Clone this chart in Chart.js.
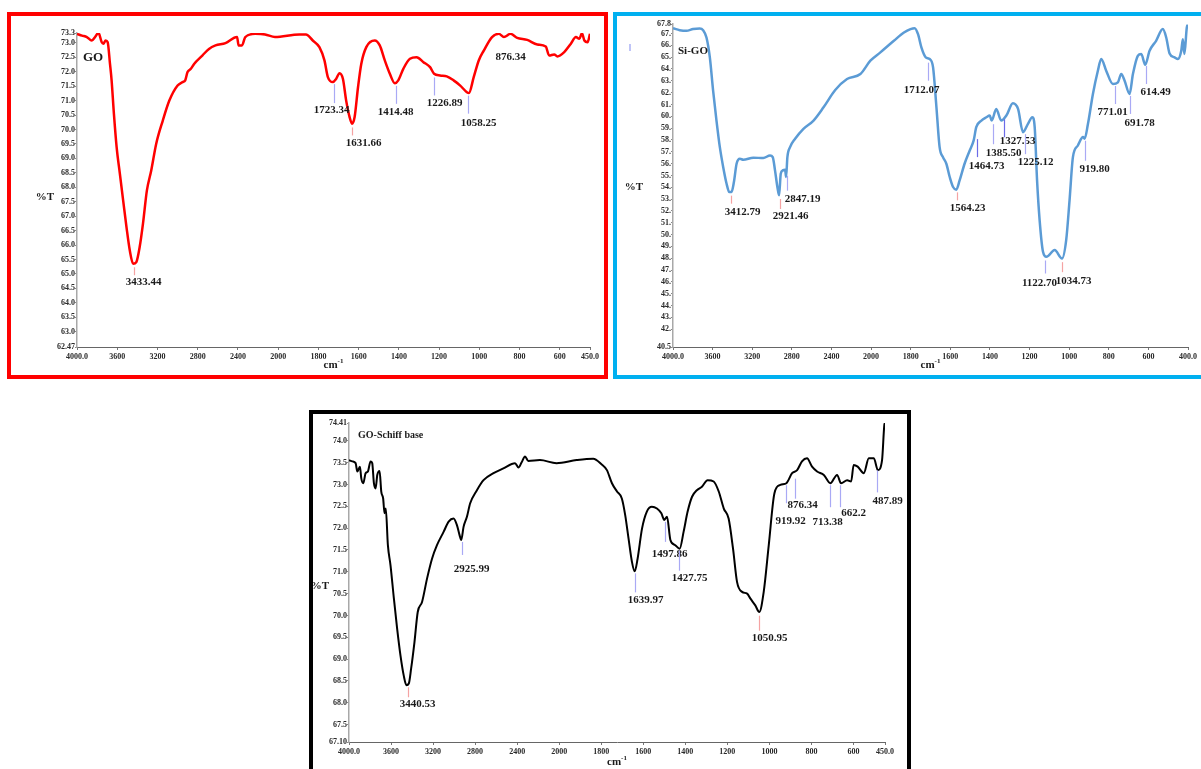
<!DOCTYPE html>
<html lang="en">
<head>
<meta charset="UTF-8">
<title>FTIR spectra - GO, Si-GO, GO-Schiff base</title>
<script src="https://cdn.jsdelivr.net/npm/chart.js@4.4.0/dist/chart.umd.min.js"></script>
<style>
  html, body { margin: 0; padding: 0; background: #fff; overflow: hidden; }
  body { width: 1201px; height: 769px; position: relative; }
  .box { position: absolute; box-sizing: border-box; border: 4px solid; }
  #box1 { left: 7px; top: 12px; width: 601px; height: 367px; border-color: #ff0000; }
  #box2 { left: 613px; top: 12px; width: 600px; height: 367px; border-color: #00b0f0; }
  #box3 { left: 309px; top: 410px; width: 602px; height: 380px; border-color: #000; }
  canvas { position: absolute; }
  #c1 { left: 11px; top: 16px; }
  #c2 { left: 617px; top: 16px; }
  #c3 { left: 313px; top: 414px; }
</style>
</head>
<body>
<div class="box" id="box1"></div>
<div class="box" id="box2"></div>
<div class="box" id="box3"></div>
<canvas id="c1" width="593" height="359"></canvas>
<canvas id="c2" width="584" height="359"></canvas>
<canvas id="c3" width="594" height="355"></canvas>

<script>
// ---- GO spectrum ----
const goWn = [4000, 3950, 3902, 3853, 3820, 3787, 3754, 3738, 3715, 3695, 3672, 3656, 3633, 3606, 3574, 3541,
  3508, 3475, 3442, 3410, 3377, 3344, 3305, 3262, 3213, 3147, 3082, 3000, 2950, 2924, 2901, 2868, 2836, 2754,
  2688, 2623, 2524, 2409, 2393, 2360, 2327, 2229, 2130, 2032, 1895, 1862, 1828, 1795, 1770, 1753, 1728, 1712,
  1695, 1678, 1662, 1645, 1633, 1620, 1603, 1587, 1562, 1520, 1495, 1470, 1445, 1420, 1403, 1378, 1345, 1312,
  1278, 1245, 1225, 1195, 1162, 1128, 1095, 1062, 1052, 1028, 1003, 978, 937, 903, 878, 845, 812, 762, 712,
  670, 653, 628, 612, 578, 545, 520, 503, 490, 478, 462, 450];
const goT = [73.31, 73.25, 73.20, 73.08, 73.20, 73.35, 73.02, 72.97, 73.08, 73.02, 72.27, 71.70, 70.54, 69.39, 68.47, 67.54,
  66.62, 65.81, 65.35, 65.41, 65.93, 66.74, 67.89, 68.58, 69.50, 70.31, 71.00, 71.52, 71.64, 71.70, 71.99, 72.10, 72.27, 72.56,
  72.79, 72.91, 72.99, 73.20, 72.91, 72.91, 73.20, 73.31, 73.29, 73.20, 73.29, 73.29, 73.08, 72.85, 72.39, 71.81, 71.64, 71.75,
  71.95, 71.75, 71.00, 70.43, 70.20, 70.43, 71.47, 72.27, 72.85, 73.08, 72.91, 72.39, 71.93, 71.60, 71.70, 72.10, 72.45, 72.50,
  72.33, 72.16, 71.93, 71.87, 71.84, 71.70, 71.52, 71.29, 71.26, 71.81, 72.39, 72.73, 73.20, 73.31, 73.20, 73.31, 73.17, 73.10, 72.94,
  72.87, 72.56, 72.60, 72.53, 72.68, 72.97, 73.20, 73.14, 73.33, 73.08, 73.02, 73.31];
const goYTicks = [73.34, 73.0, 72.5, 72.0, 71.5, 71.0, 70.5, 70.0, 69.5, 69.0, 68.5, 68.0, 67.5, 67.0, 66.5, 66.0,
  65.5, 65.0, 64.5, 64.0, 63.5, 63.0, 62.47];
const goYLabels = ['73.3', '73.0', '72.5', '72.0', '71.5', '71.0', '70.5', '70.0', '69.5', '69.0', '68.5', '68.0', '67.5',
  '67.0', '66.5', '66.0', '65.5', '65.0', '64.5', '64.0', '63.5', '63.0', '62.47'];
const goPeakWn = [3433.44, 1723.34, 1631.66, 1414.48, 1226.89, 1058.25, 876.34];
const goPeakText = ['3433.44', '1723.34', '1631.66', '1414.48', '1226.89', '1058.25', '876.34'];

// ---- Si-GO spectrum ----
const sigoWn = [4000, 3932, 3865, 3797, 3730, 3696, 3662, 3628, 3595, 3561, 3527, 3493, 3459, 3432, 3409, 3385,
  3358, 3324, 3291, 3189, 3088, 3020, 2993, 2970, 2946, 2929, 2912, 2892, 2868, 2858, 2845, 2818, 2767, 2683,
  2581, 2480, 2362, 2243, 2108, 2007, 1953, 1885, 1834, 1801, 1780, 1763, 1746, 1724, 1704, 1687, 1670, 1654,
  1637, 1620, 1603, 1586, 1570, 1553, 1528, 1502, 1482, 1469, 1443, 1418, 1401, 1391, 1368, 1343, 1317, 1284,
  1258, 1233, 1208, 1186, 1174, 1162, 1149, 1132, 1115, 1073, 1036, 1015, 998, 981, 956, 930, 922, 905, 880,
  855, 838, 813, 779, 754, 737, 720, 695, 678, 653, 636, 616, 594, 561, 527, 510, 493, 468, 451, 434, 426,
  418, 406, 400];
const sigoT = [67.45, 67.28, 67.22, 67.37, 67.42, 67.28, 66.66, 64.98, 62.17, 59.64, 57.39, 55.70, 54.30, 53.60, 53.60, 54.44,
  55.99, 56.41, 56.33, 56.50, 56.47, 56.69, 56.55, 55.43, 54.02, 53.32, 55.15, 55.43, 55.48, 54.87, 56.55, 57.39, 58.10, 58.94,
  59.64, 60.76, 62.22, 63.15, 63.57, 64.70, 65.40, 66.38, 67.08, 67.37, 67.45, 66.94, 65.82, 64.98, 64.84, 64.13, 60.76, 57.39,
  56.55, 55.99, 54.87, 54.02, 53.80, 54.58, 55.99, 57.11, 57.96, 59.08, 59.64, 59.92, 60.06, 59.64, 60.62, 59.64, 60.06, 61.10,
  60.62, 58.66, 59.36, 59.92, 59.08, 54.58, 51.21, 48.55, 48.12, 48.69, 47.98, 49.53, 52.90, 56.55, 57.53, 58.24, 58.10, 59.36, 61.89,
  63.85, 64.84, 63.85, 62.73, 62.87, 63.57, 63.01, 61.89, 63.57, 65.12, 65.26, 64.36, 65.54, 66.38, 67.37, 66.66, 65.31, 64.98, 64.84, 65.54, 66.52,
  65.26, 67.51, 67.73];
const sigoYTicks = [67.8, 67, 66, 65, 64, 63, 62, 61, 60, 59, 58, 57, 56, 55, 54, 53, 52, 51, 50, 49, 48, 47, 46,
  45, 44, 43, 42, 40.5];
const sigoYLabels = ['67.8', '67.', '66.', '65.', '64.', '63.', '62.', '61.', '60.', '59.', '58.', '57.', '56.', '55.',
  '54.', '53.', '52.', '51.', '50.', '49.', '48.', '47.', '46.', '45.', '44.', '43.', '42.', '40.5'];
const sigoPeakWn = [3412.79, 2921.46, 2847.19, 1712.07, 1564.23, 1464.73, 1385.50, 1327.53, 1225.12, 1122.70,
  1034.73, 919.80, 771.01, 691.78, 614.49];
const sigoPeakText = ['3412.79', '2921.46', '2847.19', '1712.07', '1564.23', '1464.73', '1385.50', '1327.53',
  '1225.12', '1122.70', '1034.73', '919.80', '771.01', '691.78', '614.49'];

// ---- GO-Schiff base spectrum ----
const gsbWn = [4000, 3968, 3937, 3921, 3896, 3883, 3864, 3842, 3820, 3795, 3779, 3763, 3747, 3731, 3709, 3693,
  3675, 3662, 3650, 3630, 3605, 3573, 3542, 3510, 3479, 3453, 3431, 3409, 3377, 3346, 3305, 3257, 3210, 3163,
  3099, 3052, 3005, 2973, 2948, 2932, 2910, 2878, 2847, 2783, 2720, 2625, 2531, 2420, 2388, 2357, 2325, 2294,
  2183, 2025, 1917, 1838, 1800, 1773, 1749, 1725, 1702, 1686, 1670, 1654, 1641, 1627, 1606, 1583, 1559, 1535,
  1514, 1500, 1487, 1471, 1448, 1427, 1408, 1389, 1368, 1345, 1321, 1294, 1265, 1241, 1217, 1194, 1173, 1154,
  1130, 1106, 1091, 1067, 1048, 1027, 1003, 976, 948, 919, 892, 868, 845, 821, 797, 773, 741, 710, 678, 659,
  630, 611, 599, 580, 551, 527, 503, 484, 464, 453, 450];
const gsbT = [73.56, 73.53, 73.49, 73.30, 73.41, 73.14, 73.03, 73.26, 73.30, 73.53, 73.49, 73.03, 72.91, 73.22, 73.31, 72.84,
  72.68, 72.34, 72.45, 71.61, 71.15, 70.39, 69.70, 69.08, 68.62, 68.40, 68.44, 68.78, 69.39, 70.08, 70.31, 70.85, 71.30, 71.61,
  71.92, 72.15, 72.22, 72.07, 71.84, 71.73, 72.03, 72.26, 72.57, 72.87, 73.10, 73.26, 73.37, 73.49, 73.39, 73.51, 73.64, 73.54,
  73.56, 73.49, 73.56, 73.59, 73.47, 73.33, 73.03, 72.84, 72.68, 72.30, 71.76, 71.23, 71.01, 71.30, 71.99, 72.38, 72.49, 72.45,
  72.34, 72.19, 72.26, 71.73, 71.61, 71.53, 71.92, 72.38, 72.72, 72.87, 72.95, 73.10, 73.07, 72.84, 72.45, 72.22, 71.53, 70.77,
  70.54, 70.50, 70.39, 70.23, 70.08, 70.54, 71.61, 72.80, 72.99, 73.03, 73.26, 73.33, 73.53, 73.60, 73.41, 73.30, 73.22, 73.03, 73.22, 73.03,
  73.10, 73.07, 73.45, 73.41, 73.26, 73.60, 73.60, 73.33, 73.56, 74.37, 74.41];
const gsbYTicks = [74.41, 74.0, 73.5, 73.0, 72.5, 72.0, 71.5, 71.0, 70.5, 70.0, 69.5, 69.0, 68.5, 68.0, 67.5, 67.10];
const gsbYLabels = ['74.41', '74.0', '73.5', '73.0', '72.5', '72.0', '71.5', '71.0', '70.5', '70.0', '69.5', '69.0',
  '68.5', '68.0', '67.5', '67.10'];
const gsbPeakWn = [3440.53, 2925.99, 1639.97, 1497.86, 1427.75, 1050.95, 919.92, 876.34, 713.38, 662.2, 487.89];
const gsbPeakText = ['3440.53', '2925.99', '1639.97', '1497.86', '1427.75', '1050.95', '919.92', '876.34', '713.38',
  '662.2', '487.89'];

// x axis ticks (wavenumber, cm-1)
const xTicksA = [4000, 3600, 3200, 2800, 2400, 2000, 1800, 1600, 1400, 1200, 1000, 800, 600, 450];
const xLabelsA = ['4000.0', '3600', '3200', '2800', '2400', '2000', '1800', '1600', '1400', '1200', '1000', '800', '600', '450.0'];
const xTicksB = [4000, 3600, 3200, 2800, 2400, 2000, 1800, 1600, 1400, 1200, 1000, 800, 600, 400];
const xLabelsB = ['4000.0', '3600', '3200', '2800', '2400', '2000', '1800', '1600', '1400', '1200', '1000', '800', '600', '400.0'];

// marker placement: [value at line top, line length px, label dx, label dy, colour]
const goPeakPos = [[65.3, 8, 9, 7, 'r'], [71.64, 19, -3, 7, 'b'], [70.14, 8, 11, 8, 'r'], [71.58, 18, -1, 8, 'b'],
  [71.87, 18, 10, 8, 'b'], [71.24, 18, 10, 9, 'b'], [73.2, 0, 6, 18, 'b']];
const sigoPeakPos = [[53.46, 8, 11, 8, 'r'], [53.18, 10, 10, 7, 'r'], [55.15, 15, 15, 8, 'b'], [64.7, 18, -7, 9, 'b'],
  [53.74, 8, 10, 8, 'r'], [58.24, 18, 9, 9, 'd'], [59.5, 20, 10, 9, 'b'], [59.92, 18, 13, 4, 'd'], [58.66, 20, 10, 8, 'b'],
  [47.98, 13, -6, 10, 'b'], [47.84, 10, 11, 9, 'r'], [58.1, 20, 9, 8, 'b'], [62.73, 18, -3, 8, 'b'], [61.89, 18, 9, 9, 'b'],
  [64.42, 18, 9, 8, 'b']];
const gsbPeakPos = [[68.4, 10, 9, 7, 'r'], [71.73, 13, 9, 14, 'b'], [71.01, 19, 10, 8, 'b'], [72.19, 20, 4, 12, 'b'],
  [71.53, 20, 10, 7, 'b'], [70.04, 15, 10, 7, 'r'], [73.03, 18, 4, 18, 'b'], [73.18, 20, 7, 6, 'b'], [73.03, 22, -3, 15, 'b'],
  [73.03, 22, 13, 6, 'b'], [73.37, 22, 10, 9, 'b']];
const markColors = { r: '#f5a3a3', b: '#a9a9f5', d: '#6b6be8' };

// axis is compressed 2x above 2000 cm-1
const brk = w => w > 2000 ? 2000 + (w - 2000) / 2 : w;

const SERIF = '"Liberation Serif", "Times New Roman", serif';

const decor = {
  id: 'decor',
  afterDatasetsDraw(chart, args, o) {
    const { ctx, chartArea: a, scales: { x, y } } = chart;
    ctx.save();
    ctx.textAlign = 'center';
    ctx.textBaseline = 'middle';
    o.peakWn.forEach((wn, i) => {
      const [top, len, dx, dy, col] = o.peakPos[i];
      const px = Math.round(x.getPixelForValue(brk(wn))) + 0.5;
      const py = y.getPixelForValue(top) + 2;
      if (len > 0) {
        ctx.strokeStyle = markColors[col];
        ctx.lineWidth = 1.2;
        ctx.beginPath();
        ctx.moveTo(px, py);
        ctx.lineTo(px, py + len);
        ctx.stroke();
      }
      ctx.fillStyle = '#1a1a1a';
      ctx.font = 'bold 11px ' + SERIF;
      ctx.fillText(o.peakText[i], px + dx, py + len + dy);
    });

    // sample name
    ctx.textAlign = 'left';
    ctx.font = 'bold ' + o.nameSize + 'px ' + SERIF;
    ctx.fillStyle = '#1a1a1a';
    ctx.fillText(o.name, a.left + o.nameDx, a.top + o.nameDy);

    // y title
    ctx.textAlign = 'center';
    ctx.font = 'bold 11px ' + SERIF;
    ctx.fillText('%T', a.left - o.yTitleDx, (a.top + a.bottom) / 2 + o.yTitleDy);

    // x title cm-1
    ctx.font = 'bold 11px ' + SERIF;
    const w1 = ctx.measureText('cm').width;
    ctx.font = 'bold 7px ' + SERIF;
    const w2 = ctx.measureText('-1').width;
    const cx = (a.left + a.right) / 2 - (w1 + w2) / 2;
    const cy = a.bottom + o.xTitleDy;
    ctx.textAlign = 'left';
    ctx.font = 'bold 11px ' + SERIF;
    ctx.fillText('cm', cx, cy);
    ctx.font = 'bold 7px ' + SERIF;
    ctx.fillText('-1', cx + w1, cy - 4);

    if (o.stray) {
      ctx.strokeStyle = '#aab0f5';
      ctx.lineWidth = 1.5;
      ctx.beginPath();
      ctx.moveTo(a.left - 43, a.top + 20);
      ctx.lineTo(a.left - 43, a.top + 27);
      ctx.stroke();
    }
    ctx.restore();
  }
};

function makePanel(id, p) {
  const pts = p.wn.map((w, i) => ({ x: brk(w), y: p.t[i] }));
  return new Chart(document.getElementById(id), {
    type: 'line',
    data: {
      datasets: [{
        data: pts,
        borderColor: p.color,
        borderWidth: p.lineWidth,
        pointRadius: 0,
        cubicInterpolationMode: 'monotone',
        fill: false
      }]
    },
    options: {
      responsive: false,
      animation: false,
      events: [],
      layout: { padding: p.padding },
      plugins: {
        legend: { display: false },
        tooltip: { enabled: false },
        decor: p.decor
      },
      scales: {
        x: {
          type: 'linear',
          reverse: true,
          min: brk(p.xTicks[p.xTicks.length - 1]),
          max: brk(p.xTicks[0]),
          afterBuildTicks: ax => { ax.ticks = p.xTicks.map(v => ({ value: brk(v) })); },
          afterFit: ax => { ax.height = p.xHeight; },
          grid: { drawOnChartArea: false, drawTicks: true, tickLength: 3, color: '#777' },
          border: { display: true, color: '#666', width: 1 },
          ticks: {
            autoSkip: false, maxRotation: 0, padding: 2, color: '#2a2a2a',
            font: { family: SERIF, size: 8, weight: 'bold' },
            callback: (v, i) => p.xLabels[i]
          }
        },
        y: {
          type: 'linear',
          min: p.yTicks[p.yTicks.length - 1],
          max: p.yTicks[0],
          afterBuildTicks: ax => { ax.ticks = p.yTicks.map(v => ({ value: v })); },
          afterFit: ax => { ax.width = p.yWidth; },
          grid: { drawOnChartArea: false, drawTicks: true, tickLength: 2, color: '#888' },
          border: { display: true, color: '#a8a8a8', width: 1.5 },
          ticks: {
            autoSkip: false, padding: 0, color: '#2a2a2a',
            font: { family: SERIF, size: 8, weight: 'bold' },
            callback: (v, i) => p.yLabels[i]
          }
        }
      }
    },
    plugins: [decor]
  });
}

makePanel('c1', {
  wn: goWn, t: goT, color: '#ff0000', lineWidth: 2.5,
  xTicks: xTicksA, xLabels: xLabelsA, yTicks: goYTicks, yLabels: goYLabels,
  padding: { left: 20, top: 17, right: 14, bottom: 0 }, yWidth: 46, xHeight: 28,
  decor: { peakWn: goPeakWn, peakText: goPeakText, peakPos: goPeakPos, name: 'GO', nameSize: 13,
    nameDx: 6, nameDy: 25, yTitleDx: 32, yTitleDy: 7, xTitleDy: 18 }
});

makePanel('c2', {
  wn: sigoWn, t: sigoT, color: '#5b9bd5', lineWidth: 2.5,
  xTicks: xTicksB, xLabels: xLabelsB, yTicks: sigoYTicks, yLabels: sigoYLabels,
  padding: { left: 10, top: 8, right: 13, bottom: 0 }, yWidth: 46, xHeight: 28,
  decor: { peakWn: sigoPeakWn, peakText: sigoPeakText, peakPos: sigoPeakPos, name: 'Si-GO', nameSize: 11,
    nameDx: 5, nameDy: 27, yTitleDx: 39, yTitleDy: 2, xTitleDy: 18, stray: true }
});

makePanel('c3', {
  wn: gsbWn, t: gsbT, color: '#000000', lineWidth: 2,
  xTicks: xTicksA, xLabels: xLabelsA, yTicks: gsbYTicks, yLabels: gsbYLabels,
  padding: { left: 6, top: 9, right: 22, bottom: 0 }, yWidth: 30, xHeight: 27,
  decor: { peakWn: gsbPeakWn, peakText: gsbPeakText, peakPos: gsbPeakPos, name: 'GO-Schiff base', nameSize: 10,
    nameDx: 9, nameDy: 12, yTitleDx: 29, yTitleDy: 4, xTitleDy: 20 }
});
</script>
</body>
</html>
